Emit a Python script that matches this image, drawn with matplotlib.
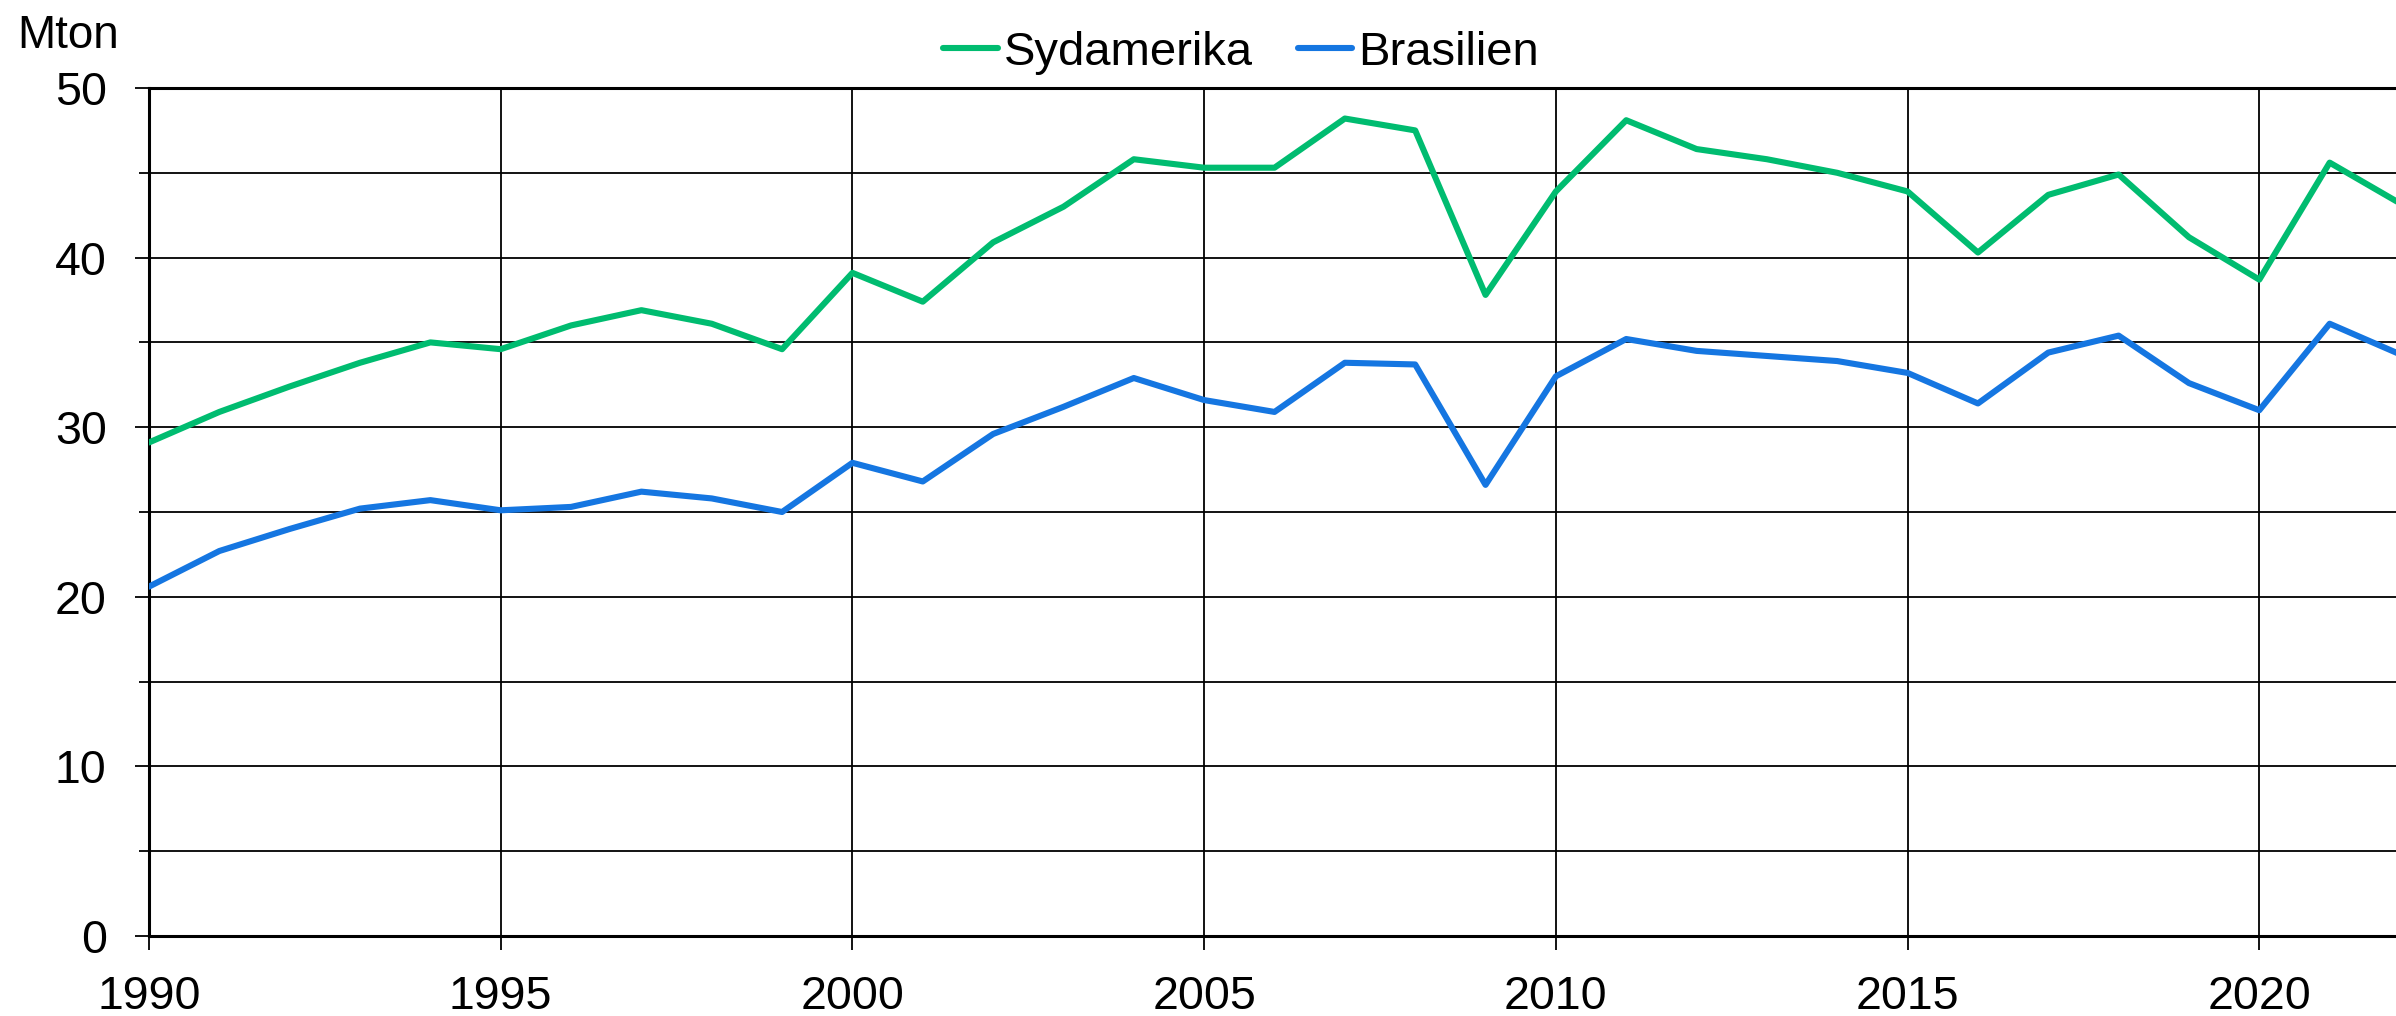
import matplotlib
matplotlib.use("Agg")
import matplotlib.pyplot as plt
from matplotlib.ticker import MultipleLocator

plt.rcParams['font.family'] = ['Liberation Sans', 'DejaVu Sans']

years = list(range(1990, 2023))
sydamerika = [29.1, 30.9, 32.4, 33.8, 35.0, 34.6, 36.0, 36.9, 36.1, 34.6,
              39.1, 37.4, 40.9, 43.0, 45.8, 45.3, 45.3, 48.2, 47.5, 37.8,
              43.9, 48.1, 46.4, 45.8, 45.0, 43.9, 40.3, 43.7, 44.9, 41.2,
              38.7, 45.6, 43.2]
brasilien = [20.6, 22.7, 24.0, 25.2, 25.7, 25.1, 25.3, 26.2, 25.8, 25.0,
             27.9, 26.8, 29.6, 31.2, 32.9, 31.6, 30.9, 33.8, 33.7, 26.6,
             33.0, 35.2, 34.5, 34.2, 33.9, 33.2, 31.4, 34.4, 35.4, 32.6,
             31.0, 36.1, 34.3]
series_names = ["Sydamerika", "Brasilien"]
series_colors = ["#00BC70", "#1576E1"]
y_unit = "Mton"

W, H = 2396, 1016
fig = plt.figure(figsize=(W / 100, H / 100), dpi=100)
ax = fig.add_axes([149 / W, 1 - 936 / H, (2400 - 149) / W, (936 - 88) / H])

for vals, name, col in zip([sydamerika, brasilien], series_names, series_colors):
    ax.plot(years, vals, color=col, lw=4.4, label=name,
            solid_joinstyle='round', solid_capstyle='round', zorder=3)

ax.set_xlim(1990, 2022)
ax.set_ylim(0, 50)
ax.xaxis.set_major_locator(MultipleLocator(5))
ax.yaxis.set_major_locator(MultipleLocator(10))
ax.yaxis.set_minor_locator(MultipleLocator(5))

ax.grid(which='major', axis='both', color='black', lw=1.3)
ax.grid(which='minor', axis='y', color='black', lw=1.3)
ax.set_axisbelow(True)

for s in ['left', 'bottom', 'top']:
    ax.spines[s].set_linewidth(2.2)
    ax.spines[s].set_color('black')
ax.spines['right'].set_visible(False)

ax.tick_params(axis='y', which='major', direction='out', length=10, width=1.3,
               labelsize=33.5, pad=20.5)
ax.tick_params(axis='y', which='minor', direction='out', length=7.2, width=1.3)
ax.tick_params(axis='x', which='major', direction='out', length=10, width=1.3,
               labelsize=33.5, pad=18)

fig.text(17 / W, 1 - 48 / H, y_unit, fontsize=33, ha='left', va='baseline')

fig.legend(loc='center', bbox_to_anchor=(1241 / W, 1 - 53 / H), ncol=2,
           frameon=False, fontsize=34, handlelength=1.16, handletextpad=0.12,
           columnspacing=0.95, borderpad=0, borderaxespad=0)

fig.savefig("out.png", dpi=100)
